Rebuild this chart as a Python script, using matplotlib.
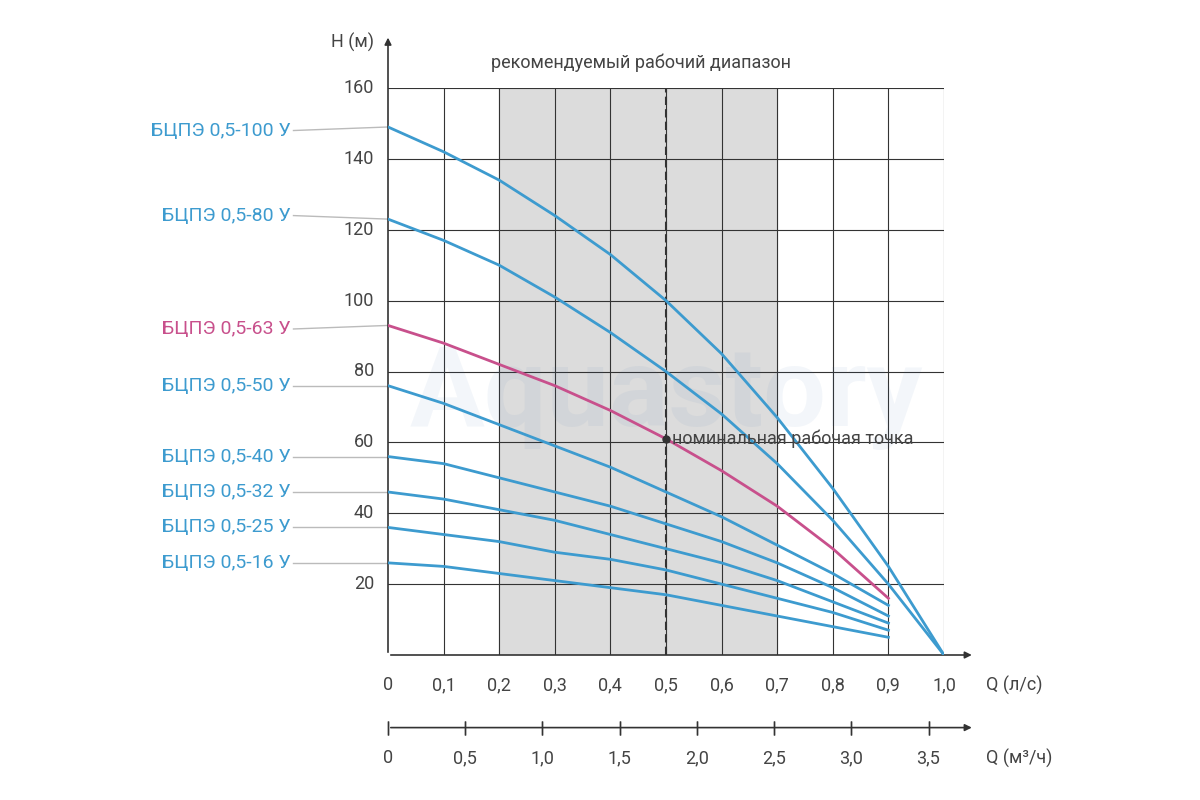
import matplotlib
matplotlib.use("Agg")
import matplotlib.pyplot as plt
import numpy as np

q = [0, 0.1, 0.2, 0.3, 0.4, 0.5, 0.6, 0.7, 0.8, 0.9, 1.0]
names = ["БЦПЭ 0,5-100 У", "БЦПЭ 0,5-80 У", "БЦПЭ 0,5-63 У", "БЦПЭ 0,5-50 У",
         "БЦПЭ 0,5-40 У", "БЦПЭ 0,5-32 У", "БЦПЭ 0,5-25 У", "БЦПЭ 0,5-16 У"]
h100 = [149, 142, 134, 124, 113, 100, 85, 67, 47, 25, 0]
h80 = [123, 117, 110, 101, 91, 80, 68, 54, 38, 20, 0]
h63 = [93, 88, 82, 76, 69, 61, 52, 42, 30, 16]
h50 = [76, 71, 65, 59, 53, 46, 39, 31, 23, 14]
h40 = [56, 54, 50, 46, 42, 37, 32, 26, 19, 11]
h32 = [46, 44, 41, 38, 34, 30, 26, 21, 15, 9]
h25 = [36, 34, 32, 29, 27, 24, 20, 16, 12, 7]
h16 = [26, 25, 23, 21, 19, 17, 14, 11, 8, 5]
series = [h100, h80, h63, h50, h40, h32, h25, h16]
label_y = [148, 124, 92, 76, 56, 46, 36, 26]
yticks = [20, 40, 60, 80, 100, 120, 140, 160]
xticks1 = [0, 0.1, 0.2, 0.3, 0.4, 0.5, 0.6, 0.7, 0.8, 0.9, 1.0]
xticks2 = [0, 0.5, 1.0, 1.5, 2.0, 2.5, 3.0, 3.5]

blue = "#3d9bcf"
pink = "#c8508c"
txt = "#444444"
plt.rcParams['font.family'] = ['Roboto', 'DejaVu Sans']

fig = plt.figure(figsize=(12, 8), dpi=100)
ax = fig.add_axes([388/1200, 145/800, 556/1200, 567/800])
ax.set_xlim(0, 1.0)
ax.set_ylim(0, 160)
ax.axvspan(0.2, 0.7, color="#dcdcdc", zorder=0)
for x in xticks1[1:]:
    ax.axvline(x, color="#333333", lw=0.8, zorder=1)
for y in yticks:
    ax.axhline(y, color="#333333", lw=0.8, zorder=1)
ax.axvline(0.5, color="#333333", lw=1.5, ls=(0, (4, 2)), zorder=2)
for s in ax.spines.values():
    s.set_visible(False)
ax.set_xticks([]); ax.set_yticks([])
for y in yticks:
    ax.text(-0.025, y, str(y), ha="right", va="center", fontsize=13, color=txt)
for x in xticks1:
    lab = "0" if x == 0 else ("%.1f" % x).replace(".", ",")
    ax.text(x, -6, lab, ha="center", va="top", fontsize=13, color=txt)
ax.text(1.075, -6, "Q (л/с)", ha="left", va="top", fontsize=13, color=txt, clip_on=False)
ax.annotate("", xy=(0, 175), xytext=(0, 0), annotation_clip=False,
            arrowprops=dict(arrowstyle="-|>", color="#333333", lw=1.2))
ax.annotate("", xy=(1.055, 0), xytext=(0, 0), annotation_clip=False,
            arrowprops=dict(arrowstyle="-|>", color="#333333", lw=1.2))
ax.text(-0.025, 173, "H (м)", ha="right", va="center", fontsize=13, color=txt)
ax.text(0.455, 167, "рекомендуемый рабочий диапазон", ha="center", va="center", fontsize=13, color=txt)
ax.text(0.5, 73, "Aquastory", fontsize=80, color="#3d6fb0", alpha=0.06, ha="center", va="center", fontweight="bold")

for nm, s, ly in zip(names, series, label_y):
    c = pink if "63" in nm else blue
    ax.plot(q[:len(s)], s, color=c, lw=2, zorder=3)
    ax.plot([-0.17, 0], [ly, s[0]], color="#bbbbbb", lw=1, clip_on=False)
    ax.text(-0.175, ly, nm, ha="right", va="center", fontsize=14, color=c)
ax.plot([0.5], [h63[5]], "o", color="#333333", ms=5, zorder=4)
ax.text(0.51, h63[5], "номинальная рабочая точка", ha="left", va="center", fontsize=13, color=txt)

ax2 = fig.add_axes([388/1200, 72/800, 556/1200, 0.001])
ax2.set_xlim(0, 3.6)
ax2.axis("off")
ax2.annotate("", xy=(3.6*1.055, 0), xytext=(0, 0), xycoords="data", annotation_clip=False,
             arrowprops=dict(arrowstyle="-|>", color="#333333", lw=1.2))
for x in xticks2:
    ax2.plot([x, x], [0, 0], marker="|", ms=10, color="#333333", clip_on=False)
    ax2.annotate(("%.1f" % x).replace(".", ",") if x else "0", (x, 0), xytext=(0, -22),
                 textcoords="offset points", ha="center", va="center", fontsize=13, color=txt)
ax2.annotate("Q (м³/ч)", (3.6*1.075, 0), xytext=(0, -22), textcoords="offset points",
             ha="left", va="center", fontsize=13, color=txt, annotation_clip=False)
fig.savefig("out.png", dpi=100)
